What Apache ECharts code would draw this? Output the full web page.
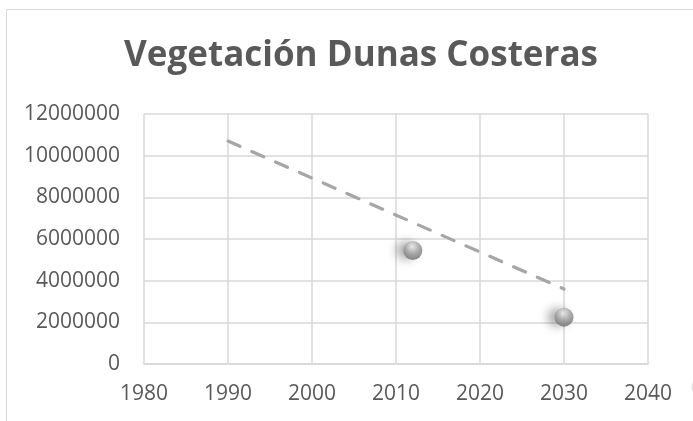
<!DOCTYPE html>
<html>
<head>
<meta charset="utf-8">
<script src="https://cdn.jsdelivr.net/npm/echarts@6/dist/echarts.min.js"></script>
<style>
  html, body { margin: 0; padding: 0; background: #ffffff; }
  #chart { width: 693px; height: 421px; }
</style>
</head>
<body>
<div id="chart"></div>
<script>
// Observed coastal dune vegetation (year, value)
const years = [2012, 2030];
const values = [5450000, 2250000];

// Linear trend line endpoints (year, value)
const trendYears = [1990, 2030];
const trendValues = [10700000, 3600000];

// Axis ticks
const xTicks = [1980, 1990, 2000, 2010, 2020, 2030, 2040];
const yTicks = [0, 2000000, 4000000, 6000000, 8000000, 10000000, 12000000];

const titleText = 'Vegetación Dunas Costeras';

const points = years.map((y, i) => [y, values[i]]);
const trend = trendYears.map((y, i) => [y, trendValues[i]]);

const chart = echarts.init(document.getElementById('chart'), null, { renderer: 'canvas' });

const labelFont = {
  color: '#595959',
  fontFamily: 'Open Sans',
  fontSize: 21
};

chart.setOption({
  backgroundColor: '#ffffff',
  animation: false,
  title: {
    text: titleText,
    left: 356,
    top: 34,
    textAlign: 'center',
    textStyle: {
      color: '#595959',
      fontFamily: 'Open Sans',
      fontWeight: 'bold',
      fontSize: 35
    }
  },
  graphic: [
    {
      type: 'rect',
      shape: { x: 6.5, y: 9.5, width: 720, height: 440 },
      style: { fill: 'none', stroke: '#d9d9d9', lineWidth: 1 },
      silent: true,
      z: -1
    },
    {
      type: 'circle',
      shape: { cx: 702, cy: 387, r: 10 },
      style: { fill: '#f7f7f7', stroke: '#dcdcdc', lineWidth: 1 },
      silent: true
    }
  ],
  grid: {
    left: 144,
    right: 45,
    top: 114,
    bottom: 57,
    containLabel: false
  },
  xAxis: {
    type: 'value',
    min: xTicks[0],
    max: xTicks[xTicks.length - 1],
    interval: xTicks[1] - xTicks[0],
    axisLine: { show: true, lineStyle: { color: '#d9d9d9', width: 1.5 } },
    axisTick: { show: false },
    axisLabel: Object.assign({ margin: 20, formatter: v => String(v) }, labelFont),
    splitLine: { show: true, lineStyle: { color: '#d9d9d9', width: 1.5 } }
  },
  yAxis: {
    type: 'value',
    min: yTicks[0],
    max: yTicks[yTicks.length - 1],
    interval: yTicks[1] - yTicks[0],
    axisLine: { show: false },
    axisTick: { show: false },
    axisLabel: Object.assign({ margin: 24, formatter: v => String(v) }, labelFont),
    splitLine: { show: true, lineStyle: { color: '#d9d9d9', width: 1.5 } }
  },
  series: [
    {
      name: 'Tendencia',
      type: 'line',
      data: trend,
      showSymbol: false,
      symbol: 'none',
      lineStyle: {
        color: '#a6a6a6',
        width: 3.2,
        type: [13, 13],
        cap: 'round'
      },
      z: 2
    },
    {
      name: 'Vegetación Dunas Costeras',
      type: 'scatter',
      data: points,
      symbol: 'circle',
      symbolSize: 19,
      itemStyle: {
        color: {
          type: 'radial',
          x: 0.45, y: 0.3, r: 0.8,
          colorStops: [
            { offset: 0, color: '#f0f0f0' },
            { offset: 0.45, color: '#a0a0a0' },
            { offset: 1, color: '#5a5a5a' }
          ]
        },
        shadowColor: 'rgba(0,0,0,0.4)',
        shadowBlur: 10,
        shadowOffsetX: -7,
        shadowOffsetY: 0
      },
      z: 3
    }
  ]
});
</script>
</body>
</html>
